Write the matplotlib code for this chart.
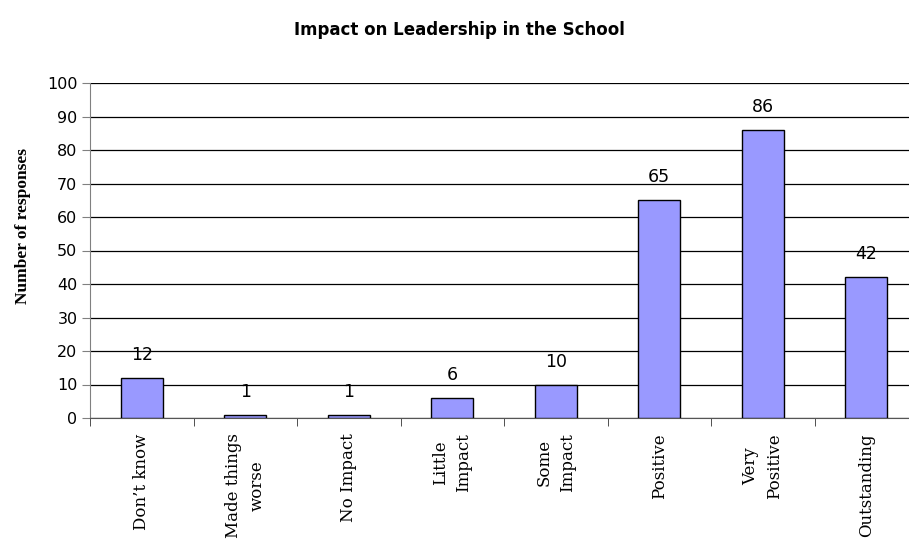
import numpy as np
import matplotlib
matplotlib.use("Agg")
import matplotlib.pyplot as plt

categories = ["Don\u2019t know", "Made things\nworse", "No Impact", "Little\nImpact",
              "Some\nImpact", "Positive", "Very\nPositive", "Outstanding"]
responses = [12, 1, 1, 6, 10, 65, 86, 42]
yticks = list(range(0, 101, 10))

fig = plt.figure(figsize=(9.09, 5.47), dpi=100)
ax = fig.add_axes([90 / 909, 129 / 547, 828 / 909, 335 / 547])

x = np.arange(len(categories))
ax.bar(x, responses, width=0.41, color="#9999FF", edgecolor="black", linewidth=1, zorder=3)

for xi, v in zip(x, responses):
    ax.annotate(str(v), (xi, v), xytext=(0, 10), textcoords="offset points",
                ha="center", va="bottom", fontsize=12.5, family="DejaVu Sans")

ax.set_xlim(-0.5, len(categories) - 0.5)
ax.set_ylim(0, 100)
ax.set_yticks(yticks)
ax.set_yticklabels([str(t) for t in yticks], fontsize=11.5, family="DejaVu Sans")
ax.yaxis.grid(True, color="black", linewidth=0.9, zorder=0)

ax.set_xticks(x)
ax.set_xticklabels(categories, rotation=90, fontsize=12, family="DejaVu Serif",
                   va="top", ha="center", multialignment="center", linespacing=1.5)
ax.set_xticks(np.arange(-0.5, len(categories), 1.0), minor=True)
ax.tick_params(axis="x", which="major", length=0, pad=11)
ax.tick_params(axis="x", which="minor", length=6, color="#333333", direction="out")
ax.tick_params(axis="y", length=6, color="#808080", direction="out", pad=3)

for s in ["top", "right"]:
    ax.spines[s].set_visible(False)
ax.spines["left"].set_color("#808080")
ax.spines["bottom"].set_color("#555555")

fig.text(23 / 909, 1 - 226 / 547, "Number of responses", rotation=90,
         ha="center", va="center", fontsize=12.5, fontweight="bold", family="Liberation Serif")

fig.text(459 / 909, 1 - 30 / 547, "Impact on Leadership in the School",
         ha="center", va="center", fontsize=12, fontweight="bold", family="DejaVu Sans")

fig.savefig("out.png", dpi=100)
